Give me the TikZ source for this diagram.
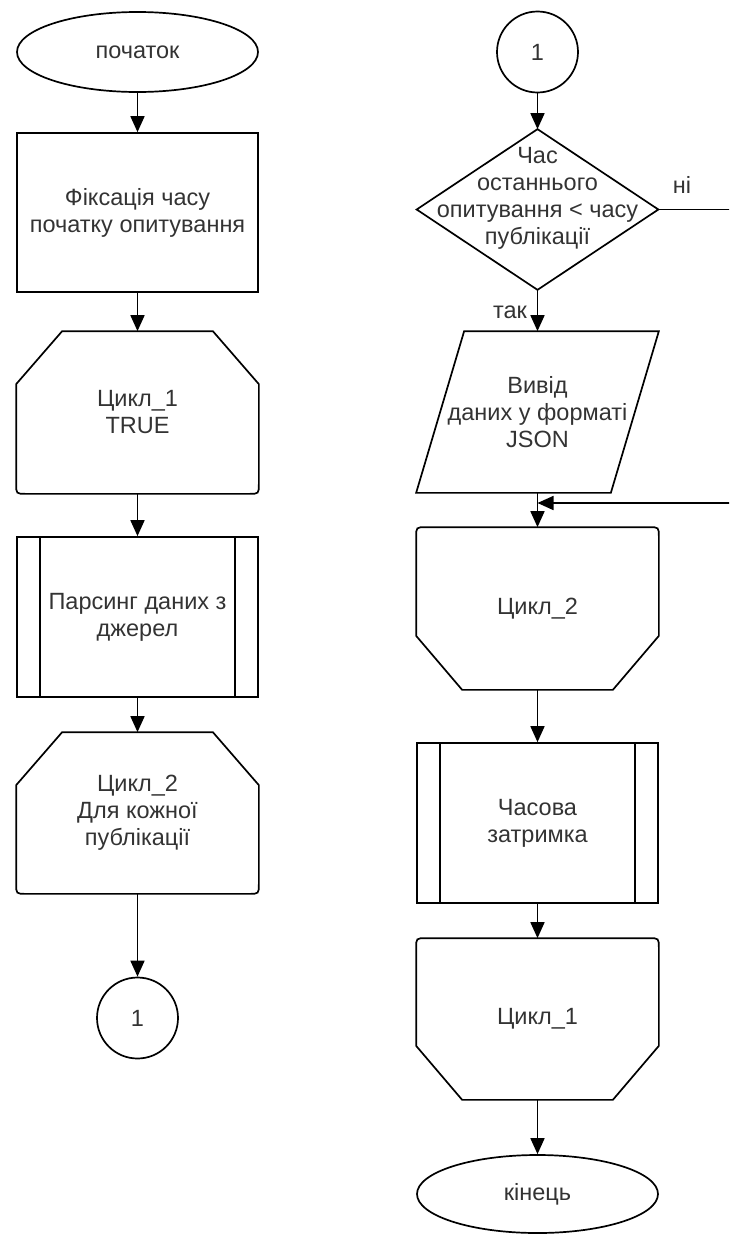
\documentclass[tikz,border=0pt]{standalone}
\usepackage{fontspec}
\setmainfont{Liberation Sans}
\usetikzlibrary{arrows.meta,shapes.geometric,calc}

% loop start: chamfered top corners, rounded bottom corners
\newcommand{\drawLoopOpen}[1]{%
  \draw[outline] ($(#1.north west)+(46,0)$) -- ($(#1.north east)+(-46,0)$)
    -- ($(#1.north east)+(0,53)$) -- ($(#1.south east)+(0,-10)$)
    .. controls (#1.south east) .. ($(#1.south east)+(-10,0)$)
    -- ($(#1.south west)+(10,0)$)
    .. controls (#1.south west) .. ($(#1.south west)+(0,-10)$)
    -- ($(#1.north west)+(0,53)$) -- cycle;}
% loop end: rounded top corners, chamfered bottom corners
\newcommand{\drawLoopClose}[1]{%
  \draw[outline] ($(#1.north west)+(10,0)$) -- ($(#1.north east)+(-10,0)$)
    .. controls (#1.north east) .. ($(#1.north east)+(0,10)$)
    -- ($(#1.south east)+(0,-54)$) -- ($(#1.south east)+(-46,0)$)
    -- ($(#1.south west)+(46,0)$) -- ($(#1.south west)+(0,-54)$)
    -- ($(#1.north west)+(0,10)$)
    .. controls (#1.north west) .. ($(#1.north west)+(10,0)$) -- cycle;}
% predefined process: the two inner side bars
\newcommand{\drawSubBars}[1]{%
  \draw[outline] ($(#1.north west)+(24,0)$) -- ($(#1.south west)+(24,0)$);
  \draw[outline] ($(#1.north east)+(-24,0)$) -- ($(#1.south east)+(-24,0)$);}

\begin{document}
\begin{tikzpicture}[x=1pt,y=-1pt,
  line width=1.7pt,
  txt/.style={align=center, text=black!80, font=\fontsize{23.5}{27}\selectfont},
  area/.style={txt, inner sep=0pt, minimum width=241pt, minimum height=#1},
  area/.default=160pt,
  outline/.style={draw=black, line width=1.7pt},
  flow/.style={draw=black, line width=1.7pt, -{Triangle[length=16pt,width=14pt]}},
  lbl/.style={text=black!80, font=\fontsize{23.5}{27}\selectfont, inner sep=0pt}
]
\clip (0,0) rectangle (729,1234);

% ---------------- left column ----------------
\node[ellipse, draw, area=80pt] (start) at (137.5,52) {початок};
\node[draw, area=159pt] (fix) at (137.5,212.5) {Фіксація часу\\початку опитування};
\node[area=161pt] (loopA) at (137.5,412.5) {Цикл\_1\\TRUE};
\drawLoopOpen{loopA}
\node[draw, area=160pt] (parse) at (137.5,617) {Парсинг даних з\\джерел};
\drawSubBars{parse}
\node[area=160pt] (loopB) at (137.5,813) {Цикл\_2\\Для кожної\\публікації};
\drawLoopOpen{loopB}
\node[circle, draw, txt, inner sep=0pt, minimum size=81pt] (connA) at (137.5,1018) {1};

\draw[flow] (start) -- (fix);
\draw[flow] (fix) -- (loopA);
\draw[flow] (loopA) -- (parse);
\draw[flow] (parse) -- (loopB);
\draw[flow] (loopB) -- (connA);

% ---------------- right column ----------------
\node[circle, draw, txt, inner sep=0pt, minimum size=81pt] (connB) at (537.5,52) {1};
\node[inner sep=0pt, minimum width=240pt, minimum height=159pt] (dec) at (537.5,209.5) {};
\draw[outline] (dec.north) -- (dec.east) -- (dec.south) -- (dec.west) -- cycle;
\node[txt, inner sep=0pt] (decText) at (537.5,198) {Час\\останнього\\опитування < часу\\публікації};
\node[area=160pt] (out) at (537.5,412) {Вивід\\даних у форматі\\JSON};
\draw[outline] ($(out.north west)+(48,0)$) -- (out.north east)
  -- ($(out.south east)+(-48,0)$) -- (out.south west) -- cycle;
\node[area=161pt] (loopC) at (537.5,608.5) {Цикл\_2};
\drawLoopClose{loopC}
\node[draw, area=160pt] (delay) at (537.5,823) {Часова\\затримка};
\drawSubBars{delay}
\node[area=160pt] (loopD) at (537.5,1019) {Цикл\_1};
\drawLoopClose{loopD}
\node[ellipse, draw, area=78pt] (finish) at (537.5,1194) {кінець};

\coordinate (merge) at (537.5,503);
\coordinate (loopback) at (770,503);

\draw[flow] (connB) -- (dec.north);
\draw[flow] (dec.south) -- (out);
\draw[flow] (out) -- (loopC);
\draw[flow] (dec.east) -| (loopback) -- (merge);
\draw[flow] (loopC) -- (delay);
\draw[flow] (delay) -- (loopD);
\draw[flow] (loopD) -- (finish);

\node[lbl] (no) at (682,185) {ні};
\node[lbl] (yes) at (510,312) {так};
\end{tikzpicture}
\end{document}
